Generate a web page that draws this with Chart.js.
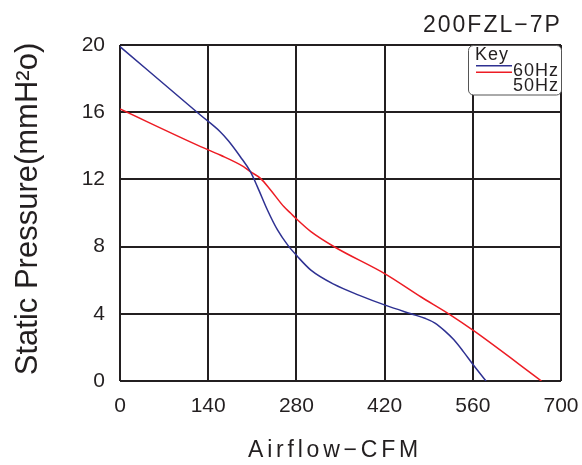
<!DOCTYPE html>
<html>
<head>
<meta charset="utf-8">
<script src="https://cdn.jsdelivr.net/npm/chart.js@4.4.1/dist/chart.umd.min.js"></script>
<style>
  html, body { margin: 0; padding: 0; background: #ffffff; }
  #wrap { width: 582px; height: 465px; }
</style>
</head>
<body>
<div id="wrap"><canvas id="c" width="582" height="465"></canvas></div>
<script>
// ---- Data ----
const chartTitle = "200FZL\u22127P";
const xAxisTitle = "Airflow\u2212CFM";
const yAxisTitle = "Static Pressure(mmH\u00B2o)";
const legendTitle = "Key";
const seriesNames = ["60Hz", "50Hz"];

const xTicks = [0, 140, 280, 420, 560, 700];
const yTicks = [0, 4, 8, 12, 16, 20];

const airflow60 = [0, 128, 159, 172, 191, 207, 218, 234, 250, 266, 282, 303, 340, 380, 422, 462, 485, 500, 515, 530, 545, 560, 581];
const pressure60 = [19.9, 15.82, 14.84, 14.3, 13.35, 12.46, 11.57, 10.18, 8.99, 8.1, 7.4, 6.6, 5.75, 5.1, 4.5, 4.0, 3.72, 3.45, 3.0, 2.45, 1.75, 1.0, 0];

const airflow50 = [0, 128, 159, 196, 207, 223, 239, 260, 271, 282, 303, 340, 422, 478, 523, 563, 669];
const pressure50 = [16.19, 13.95, 13.45, 12.76, 12.46, 12.06, 11.37, 10.38, 9.98, 9.58, 8.89, 7.99, 6.35, 5.0, 3.97, 2.95, 0];

// ---- Styles ----
const FONT = "'Liberation Sans', Arial, Helvetica, sans-serif";
const INK = "#231f20";
const BLUE = "#2e3192";
const RED = "#ed1c24";

const toPoints = (xs, ys) => xs.map((x, i) => ({ x: x, y: ys[i] }));

const textPlugin = {
  id: 'textPlugin',
  afterDraw(chart) {
    const ctx = chart.ctx;
    const area = chart.chartArea;
    ctx.save();
    ctx.fillStyle = INK;
    ctx.textBaseline = 'alphabetic';

    // Title (top right)
    ctx.font = "23px " + FONT;
    ctx.letterSpacing = "2px";
    ctx.textAlign = 'left';
    ctx.fillText(chartTitle, 423, 32);

    // X axis title
    ctx.font = "23px " + FONT;
    ctx.letterSpacing = "3.8px";
    ctx.fillText(xAxisTitle, 248, 457);

    // Y axis title (rotated)
    ctx.letterSpacing = "0px";
    ctx.save();
    ctx.translate(36.5, (area.top + area.bottom) / 2 - 4);
    ctx.rotate(-Math.PI / 2);
    ctx.font = "31px " + FONT;
    ctx.textAlign = 'center';
    ctx.fillText(yAxisTitle, 0, 0);
    ctx.restore();

    // Legend box
    const bx = 468.5, by = 45.5, bw = 93, bh = 49.5, r = 5;
    ctx.beginPath();
    ctx.moveTo(bx + r, by);
    ctx.lineTo(bx + bw - r, by);
    ctx.arcTo(bx + bw, by, bx + bw, by + r, r);
    ctx.lineTo(bx + bw, by + bh - r);
    ctx.arcTo(bx + bw, by + bh, bx + bw - r, by + bh, r);
    ctx.lineTo(bx + r, by + bh);
    ctx.arcTo(bx, by + bh, bx, by + bh - r, r);
    ctx.lineTo(bx, by + r);
    ctx.arcTo(bx, by, bx + r, by, r);
    ctx.closePath();
    ctx.fillStyle = "#ffffff";
    ctx.fill();
    ctx.strokeStyle = "#555555";
    ctx.lineWidth = 1;
    ctx.stroke();

    ctx.fillStyle = INK;
    ctx.font = "18px " + FONT;
    ctx.letterSpacing = "1px";
    ctx.textAlign = 'left';
    ctx.fillText(legendTitle, 475, 60);

    const colors = [BLUE, RED];
    const lineY = [65.7, 72.3];
    for (let i = 0; i < 2; i++) {
      ctx.beginPath();
      ctx.moveTo(476, lineY[i]);
      ctx.lineTo(512, lineY[i]);
      ctx.strokeStyle = colors[i];
      ctx.lineWidth = 1.5;
      ctx.stroke();
    }
    ctx.fillText(seriesNames[0], 513, 76);
    ctx.fillText(seriesNames[1], 513, 91);
    ctx.restore();
  }
};

new Chart(document.getElementById('c'), {
  type: 'scatter',
  data: {
    datasets: [
      {
        label: seriesNames[0],
        data: toPoints(airflow60, pressure60),
        showLine: true,
        borderColor: BLUE,
        backgroundColor: BLUE,
        borderWidth: 1.5,
        pointRadius: 0,
        cubicInterpolationMode: 'monotone'
      },
      {
        label: seriesNames[1],
        data: toPoints(airflow50, pressure50),
        showLine: true,
        borderColor: RED,
        backgroundColor: RED,
        borderWidth: 1.5,
        pointRadius: 0,
        cubicInterpolationMode: 'monotone'
      }
    ]
  },
  options: {
    responsive: false,
    animation: false,
    devicePixelRatio: 1,
    layout: { padding: { left: 0, right: 21, top: 45, bottom: 0 } },
    plugins: {
      legend: { display: false },
      tooltip: { enabled: false },
      title: { display: false }
    },
    scales: {
      x: {
        type: 'linear',
        min: 0,
        max: 700,
        afterBuildTicks: (scale) => { scale.ticks = xTicks.map(v => ({ value: v })); },
        afterFit: (scale) => {
          scale.height = 84;
          scale.paddingLeft = 0;
          scale.paddingRight = 0;
        },
        grid: { color: INK, lineWidth: 2, drawTicks: false },
        border: { display: false },
        ticks: {
          color: INK,
          padding: 13,
          maxRotation: 0,
          autoSkip: false,
          font: { family: FONT, size: 21 }
        }
      },
      y: {
        type: 'linear',
        min: 0,
        max: 20,
        afterBuildTicks: (scale) => { scale.ticks = yTicks.map(v => ({ value: v })); },
        afterFit: (scale) => {
          scale.width = 120;
          scale.paddingTop = 0;
          scale.paddingBottom = 0;
        },
        grid: { color: INK, lineWidth: 2, drawTicks: false },
        border: { display: false },
        ticks: {
          color: INK,
          padding: 15,
          autoSkip: false,
          font: { family: FONT, size: 21 }
        }
      }
    }
  },
  plugins: [textPlugin]
});
</script>
</body>
</html>
